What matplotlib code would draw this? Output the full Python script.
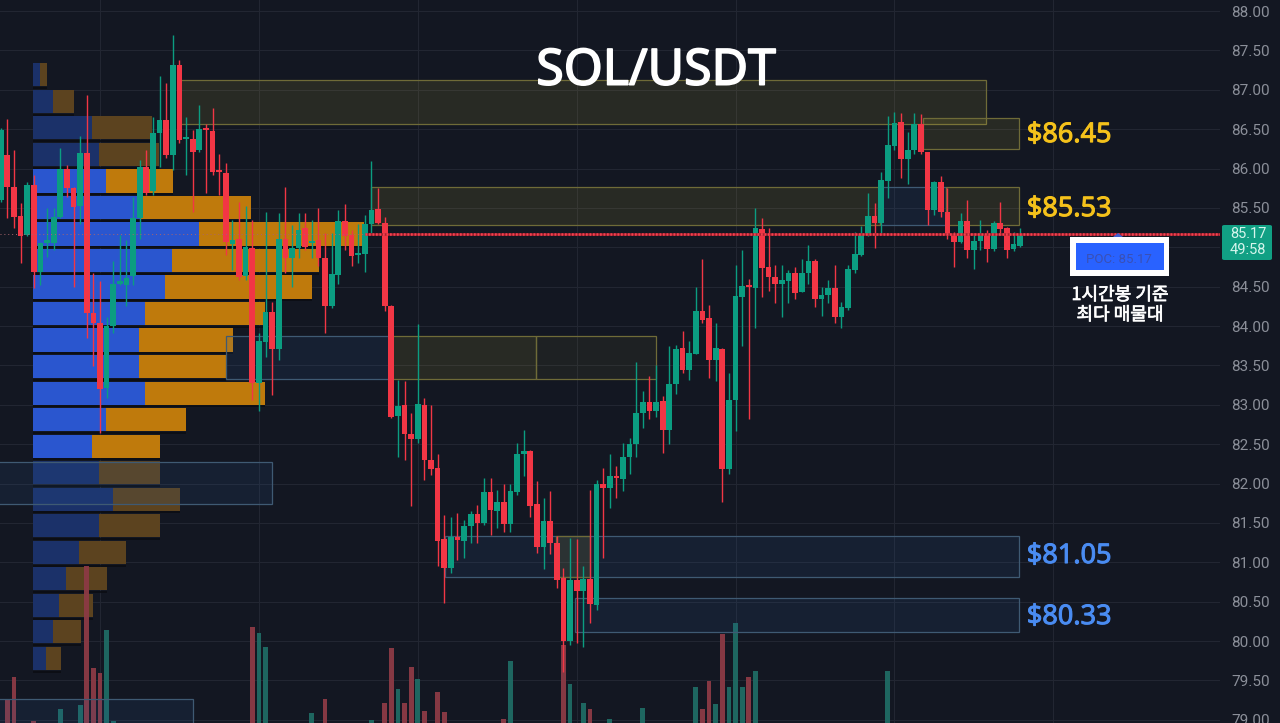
import matplotlib
matplotlib.use("Agg")
import matplotlib.pyplot as plt
import matplotlib.patheffects as pe
import numpy as np
from matplotlib.patches import FancyBboxPatch, Polygon, Rectangle

plt.rcParams['font.family'] = ['Noto Sans CJK KR', 'DejaVu Sans']

# candles
opens = [85.60, 86.17, 85.76, 85.40, 85.16, 85.79, 84.69, 85.06, 85.06, 85.39,
         86.00, 85.75, 85.53, 86.20, 84.16, 84.04, 83.21, 84.00, 84.54, 84.52,
         84.63, 85.37, 86.02, 85.71, 86.45, 86.62, 86.17, 87.31, 86.37, 86.37,
         86.23, 86.51, 86.48, 85.97, 85.94, 85.04, 85.10, 84.64, 84.99, 83.28,
         83.80, 84.18, 83.71, 85.11, 84.86, 84.99, 85.24, 85.05, 85.09, 84.87,
         84.25, 84.65, 85.33, 85.16, 84.90, 84.92, 85.29, 85.48, 85.31, 84.26,
         82.86, 83.00, 82.63, 82.56, 83.00, 82.30, 82.20, 81.29, 80.93, 81.32,
         81.27, 81.46, 81.62, 81.50, 81.89, 81.65, 81.77, 81.49, 81.89, 82.37,
         82.41, 81.74, 81.19, 81.52, 81.24, 80.80, 80.00, 80.77, 80.63, 80.79,
         80.46, 81.99, 81.94, 82.10, 82.06, 82.34, 82.50, 82.89, 83.04, 82.92,
         83.05, 82.68, 83.27, 83.72, 83.44, 83.65, 84.19, 84.10, 83.57, 83.71,
         82.18, 83.06, 84.37, 84.51, 84.48, 85.23, 84.75, 84.62, 84.54, 84.57,
         84.68, 84.43, 84.67, 84.83, 84.34, 84.40, 84.48, 84.12, 84.23, 84.71,
         84.90, 85.16, 85.40, 85.31, 85.84, 86.29, 86.59, 86.12, 86.24, 86.57,
         86.21, 85.47, 85.83, 85.45, 85.17, 85.07, 85.33, 84.96, 85.08, 85.17,
         84.98, 85.31, 85.25, 84.98, 85.02]
closes = [86.49, 85.77, 85.38, 85.14, 85.79, 84.69, 85.06, 85.07, 85.39, 86.00,
          85.75, 85.51, 86.20, 84.16, 84.04, 83.20, 84.00, 84.54, 84.55, 84.61,
          85.37, 86.02, 85.69, 86.45, 86.62, 86.17, 87.31, 86.36, 86.38, 86.21,
          86.50, 86.49, 85.95, 85.95, 85.07, 85.09, 84.62, 85.00, 83.28, 83.81,
          84.18, 83.71, 85.11, 84.86, 84.99, 85.22, 85.01, 85.08, 84.86, 84.25,
          84.66, 85.33, 85.14, 84.89, 84.92, 85.29, 85.47, 85.31, 84.26, 82.84,
          82.99, 82.63, 82.56, 83.01, 82.30, 82.18, 81.27, 80.93, 81.32, 81.28,
          81.46, 81.62, 81.50, 81.89, 81.67, 81.77, 81.49, 81.90, 82.37, 82.41,
          81.72, 81.20, 81.53, 81.24, 80.78, 80.00, 80.78, 80.63, 80.79, 80.47,
          81.99, 81.94, 82.10, 82.07, 82.34, 82.50, 82.90, 83.03, 82.92, 83.04,
          82.68, 83.27, 83.71, 83.44, 83.66, 84.19, 84.08, 83.57, 83.72, 82.18,
          83.06, 84.38, 84.51, 84.49, 85.24, 84.74, 84.62, 84.54, 84.59, 84.68,
          84.42, 84.68, 84.82, 84.34, 84.40, 84.48, 84.11, 84.24, 84.73, 84.92,
          85.17, 85.40, 85.31, 85.85, 86.30, 86.58, 86.12, 86.24, 86.57, 86.21,
          85.47, 85.83, 85.45, 85.16, 85.07, 85.33, 84.96, 85.08, 85.17, 84.98,
          85.31, 85.23, 84.96, 85.04, 85.17]
highs = [86.51, 86.63, 86.23, 85.56, 85.83, 85.92, 85.07, 85.50, 85.50, 86.26,
         86.05, 85.77, 86.41, 86.93, 84.67, 84.57, 84.12, 84.82, 85.16, 85.09,
         85.64, 86.11, 86.24, 86.66, 87.17, 87.08, 87.70, 87.38, 86.66, 86.49,
         86.81, 86.57, 86.77, 86.19, 86.07, 85.35, 85.58, 85.52, 85.35, 83.91,
         85.45, 84.31, 85.43, 85.77, 85.28, 85.44, 85.44, 85.35, 85.50, 85.18,
         85.18, 85.47, 85.55, 85.22, 85.30, 85.41, 86.09, 85.75, 85.39, 84.27,
         83.32, 83.30, 82.89, 84.02, 83.09, 83.00, 82.37, 81.60, 81.58, 81.63,
         81.54, 81.65, 81.73, 82.07, 82.07, 81.92, 82.00, 82.00, 82.51, 82.68,
         82.42, 82.03, 81.82, 81.90, 81.33, 80.93, 81.31, 81.29, 80.95, 81.92,
         82.05, 82.20, 82.37, 82.22, 82.52, 82.58, 83.54, 83.17, 83.36, 83.51,
         83.11, 83.75, 83.76, 83.94, 83.81, 84.50, 84.85, 84.27, 84.04, 83.72,
         83.40, 84.78, 84.97, 84.60, 85.50, 85.37, 85.24, 84.78, 84.77, 84.71,
         84.75, 84.85, 85.03, 84.85, 84.50, 84.59, 84.78, 84.31, 84.77, 85.19,
         85.27, 85.69, 85.56, 85.96, 86.67, 86.72, 86.70, 86.47, 86.71, 86.69,
         86.21, 85.84, 85.90, 85.75, 85.20, 85.43, 85.60, 85.18, 85.35, 85.22,
         85.33, 85.58, 85.26, 85.19, 85.24]
lows = [85.58, 85.37, 85.24, 84.80, 85.14, 84.48, 84.52, 84.88, 84.97, 85.37,
        85.64, 84.50, 85.29, 83.85, 83.49, 82.64, 83.09, 83.91, 84.52, 84.25,
        84.52, 85.11, 85.67, 85.67, 86.02, 86.13, 85.98, 86.32, 85.92, 85.45,
        86.21, 85.69, 85.92, 85.67, 84.90, 84.71, 84.59, 84.59, 83.06, 82.92,
        83.61, 83.13, 83.57, 84.67, 84.50, 84.86, 84.97, 84.86, 84.76, 83.91,
        84.23, 84.54, 84.97, 84.76, 84.80, 84.69, 85.18, 85.29, 84.19, 82.83,
        82.34, 82.30, 81.71, 82.51, 82.05, 82.11, 80.95, 80.48, 80.86, 81.03,
        81.05, 81.25, 81.25, 81.48, 81.35, 81.44, 81.39, 81.39, 81.86, 82.09,
        81.57, 81.12, 80.91, 81.11, 80.67, 79.61, 79.95, 79.98, 79.93, 80.23,
        80.40, 81.05, 81.69, 81.82, 81.90, 82.12, 82.34, 82.70, 82.82, 82.85,
        82.39, 82.50, 83.14, 83.41, 83.31, 83.64, 84.04, 83.34, 83.30, 81.77,
        82.12, 82.67, 83.75, 82.82, 83.97, 84.37, 84.44, 84.29, 84.11, 84.29,
        84.34, 84.43, 84.54, 84.24, 84.13, 84.29, 84.04, 83.97, 84.20, 84.67,
        84.89, 85.14, 84.99, 85.18, 85.62, 86.24, 85.88, 85.81, 86.19, 86.19,
        85.28, 85.41, 85.38, 85.11, 84.75, 85.05, 84.87, 84.72, 84.97, 84.81,
        84.95, 85.16, 84.87, 84.95, 85.01]

# volume bars: bar index -> volume (only the ones tall enough to show)
vol_index = [1, 2, 5, 9, 12, 13, 14, 15, 16, 17, 38, 39, 40, 47, 49, 56, 58, 59, 60, 61,
             62, 63, 64, 66, 67, 76, 77, 85, 86, 88, 89, 92, 97, 105, 106, 107, 108,
             109, 110, 111, 112, 113, 114, 134]
vol_value = [24, 46, 2, 14, 18, 157, 55, 50, 93, 2, 96, 90, 76, 10, 24, 3, 20, 75, 34, 20,
             56, 44, 12, 31, 11, 4, 62, 78, 39, 20, 14, 4, 15, 36, 14, 42, 19,
             89, 36, 100, 36, 46, 52, 52]

# volume profile rows from the top row down
profile_buy = [7, 20, 59, 66, 73, 107, 166, 139, 132, 112, 106, 106, 112,
               73, 59, 66, 80, 66, 46, 33, 26, 20, 13]
profile_sell = [7, 21, 60, 60, 67, 111, 165, 147, 147, 120, 94, 87, 120,
                80, 68, 61, 67, 61, 47, 41, 34, 28, 15]
profile_bright = [4, 5, 6, 7, 8, 9, 10, 11, 12, 13, 14]

# zones: left bar, right bar, top price, bottom price
yellow_zones = [(27.1, 148.8, 87.12, 86.57), (139.3, 153.8, 86.64, 86.25),
                (55.9, 132.8, 85.76, 85.28), (142.8, 153.8, 85.76, 85.28),
                (58.8, 80.9, 83.88, 83.33), (83.9, 89.0, 81.33, 80.82)]
faint_zones = [(80.9, 99.0, 83.88, 83.33)]
blue_zones = [(34.0, 58.8, 83.88, 83.33), (132.8, 142.8, 85.76, 85.28),
              (-1.0, 41.0, 82.28, 81.74), (67.1, 153.8, 81.33, 80.82),
              (86.8, 153.8, 80.55, 80.11), (-1.0, 29.05, 79.27, 78.9)]

tick_prices = [88.0, 87.5, 87.0, 86.5, 86.0, 85.5, 84.5, 84.0, 83.5, 83.0, 82.5, 82.0,
               81.5, 81.0, 80.5, 80.0, 79.5, 79.0]
level_labels = ['$86.45', '$85.53', '$81.05', '$80.33']
level_prices = [86.425, 85.485, 81.08, 80.305]
level_colors = ['#f5c21b', '#f5c21b', '#4a8cf2', '#4a8cf2']
last_price = 85.17

bg = '#131722'
up = '#0b9d81'
down = '#f23645'

fig = plt.figure(figsize=(12.8, 7.23), dpi=100, facecolor=bg)
ax = fig.add_axes([0, 0, 1220 / 1280, 1], facecolor=bg)
ax.set_xlim(-0.106, 184.18)
ax.set_ylim(78.96, 88.14)
y_min = ax.get_ylim()[0]

for s in ax.spines.values():
    s.set_visible(False)
ax.yaxis.tick_right()
ticks = np.arange(79, 88.5, 0.5)
ax.set_yticks(ticks)
ax.set_yticklabels(['%.2f' % t if t in tick_prices else '' for t in ticks],
                   family='Roboto', fontsize=11, color='#8b8f99')
ax.set_xticks([15, 39, 63, 87, 111, 135, 159])
ax.tick_params(axis='both', length=0, pad=8)
ax.tick_params(axis='x', labelbottom=False)
ax.grid(True, color='#222632', lw=0.8)
ax.set_axisbelow(True)

# profile
row_prices = [87.19 - k * 0.3368 for k in range(len(profile_buy))]
for k, (p, b, s) in enumerate(zip(row_prices, profile_buy, profile_sell)):
    bright = k in profile_bright
    ax.barh(p, b / 6.62, left=4.88, height=0.295, zorder=1,
            color='#2a56cf' if bright else '#1b3169')
    ax.barh(p, s / 6.62, left=4.88 + b / 6.62, height=0.295, zorder=1,
            color='#bf7a0c' if bright else '#5c431f')
    ax.hlines(p - 0.168, 4.88, 4.88 + (b + s) / 6.62, color='#0b0d13', lw=1.2, zorder=1)

# volume
for i, v in zip(vol_index, vol_value):
    ax.bar(i, v / 78.78, bottom=y_min, width=0.72, zorder=2, alpha=0.95,
           color='#8c3a45' if closes[i] < opens[i] else '#1f6b64')

# zones
for l, r, t, b in blue_zones:
    ax.add_patch(Rectangle((l, b), r - l, t - b, facecolor='#2f6db5', alpha=0.11, lw=0, zorder=3))
    ax.add_patch(Rectangle((l, b), r - l, t - b, fill=False, edgecolor='#3f5a73', lw=0.9, zorder=3))
for l, r, t, b in yellow_zones:
    ax.add_patch(Rectangle((l, b), r - l, t - b, facecolor='#d9c53c', alpha=0.11, lw=0, zorder=3))
    ax.add_patch(Rectangle((l, b), r - l, t - b, fill=False, edgecolor='#6f6b38', lw=0.9, zorder=3))
for l, r, t, b in faint_zones:
    ax.add_patch(Rectangle((l, b), r - l, t - b, facecolor='#d9c53c', alpha=0.06, lw=0, zorder=3))
    ax.add_patch(Rectangle((l, b), r - l, t - b, fill=False, edgecolor='#6f6b38', lw=0.9, zorder=3))

# candles
x = np.arange(len(opens))
colors = [up if c >= o else down for o, c in zip(opens, closes)]
ax.vlines(x, lows, highs, colors=colors, lw=1.0, zorder=4)
tops = np.maximum(opens, closes)
bots = np.minimum(opens, closes)
ax.bar(x, np.maximum(tops - bots, 0.03), bottom=bots, width=0.86, color=colors, zorder=4)

# last price line
ax.hlines(last_price, -0.1, 55, color='#a9646d', lw=0.7, ls=(0, (1, 3)), zorder=5)
ax.hlines(last_price, 55, 184.18, color='#a8222e', lw=1.8, zorder=5)
ax.hlines(last_price, 55, 184.18, color='#f5404f', lw=1.8, ls=(0, (0.7, 0.7)), zorder=5)

for lab, p, c in zip(level_labels, level_prices, level_colors):
    ax.text(155, p, lab, color=c, family='Noto Sans', fontsize=19.5, va='center', ha='left', zorder=6,
            path_effects=[pe.withStroke(linewidth=0.7, foreground=c)])

ax.text(99, 87.23, 'SOL/USDT', color='white', family='Noto Sans', fontsize=36,
        ha='center', va='center', zorder=6,
        path_effects=[pe.withStroke(linewidth=1.2, foreground='white')])


def px(x, y):
    return x / 1280, 1 - y / 723


# last price tag
fig.add_artist(FancyBboxPatch(px(1222, 260), 50 / 1280, 35 / 723, boxstyle='round,pad=0,rounding_size=0.002',
                              facecolor='#11a084', edgecolor='none', transform=fig.transFigure))
fig.text(*px(1248, 234), '85.17', color='#d5f5ec', family='Roboto', fontsize=10.5, ha='center', va='center')
fig.text(*px(1248, 250), '49:58', color='#d5f5ec', family='Roboto', fontsize=10.5, ha='center', va='center')

# POC box
fig.add_artist(Rectangle(px(1070, 276), 99 / 1280, 39 / 723, facecolor='white', edgecolor='none',
                         transform=fig.transFigure, zorder=6))
fig.add_artist(Rectangle(px(1076, 270), 88 / 1280, 27 / 723, facecolor='#2962ff', edgecolor='none',
                         transform=fig.transFigure, zorder=7))
fig.add_artist(Polygon([px(1113, 237), px(1123, 237), px(1118, 233)], closed=True, facecolor='#3f5fd0',
                       edgecolor='none', transform=fig.transFigure, zorder=7))
fig.text(*px(1119, 259), 'POC: 85.17', color='#3a50b4', family='Roboto', fontsize=9.5, ha='center', va='center', zorder=8)
for label, y_px in zip(['1시간봉 기준', '최다 매물대'], [295, 315]):
    fig.text(*px(1120, y_px), label, color='white', fontsize=13, ha='center', va='center', zorder=8,
             path_effects=[pe.withStroke(linewidth=0.5, foreground='white')])

fig.savefig('out.png', dpi=100, facecolor=bg)
